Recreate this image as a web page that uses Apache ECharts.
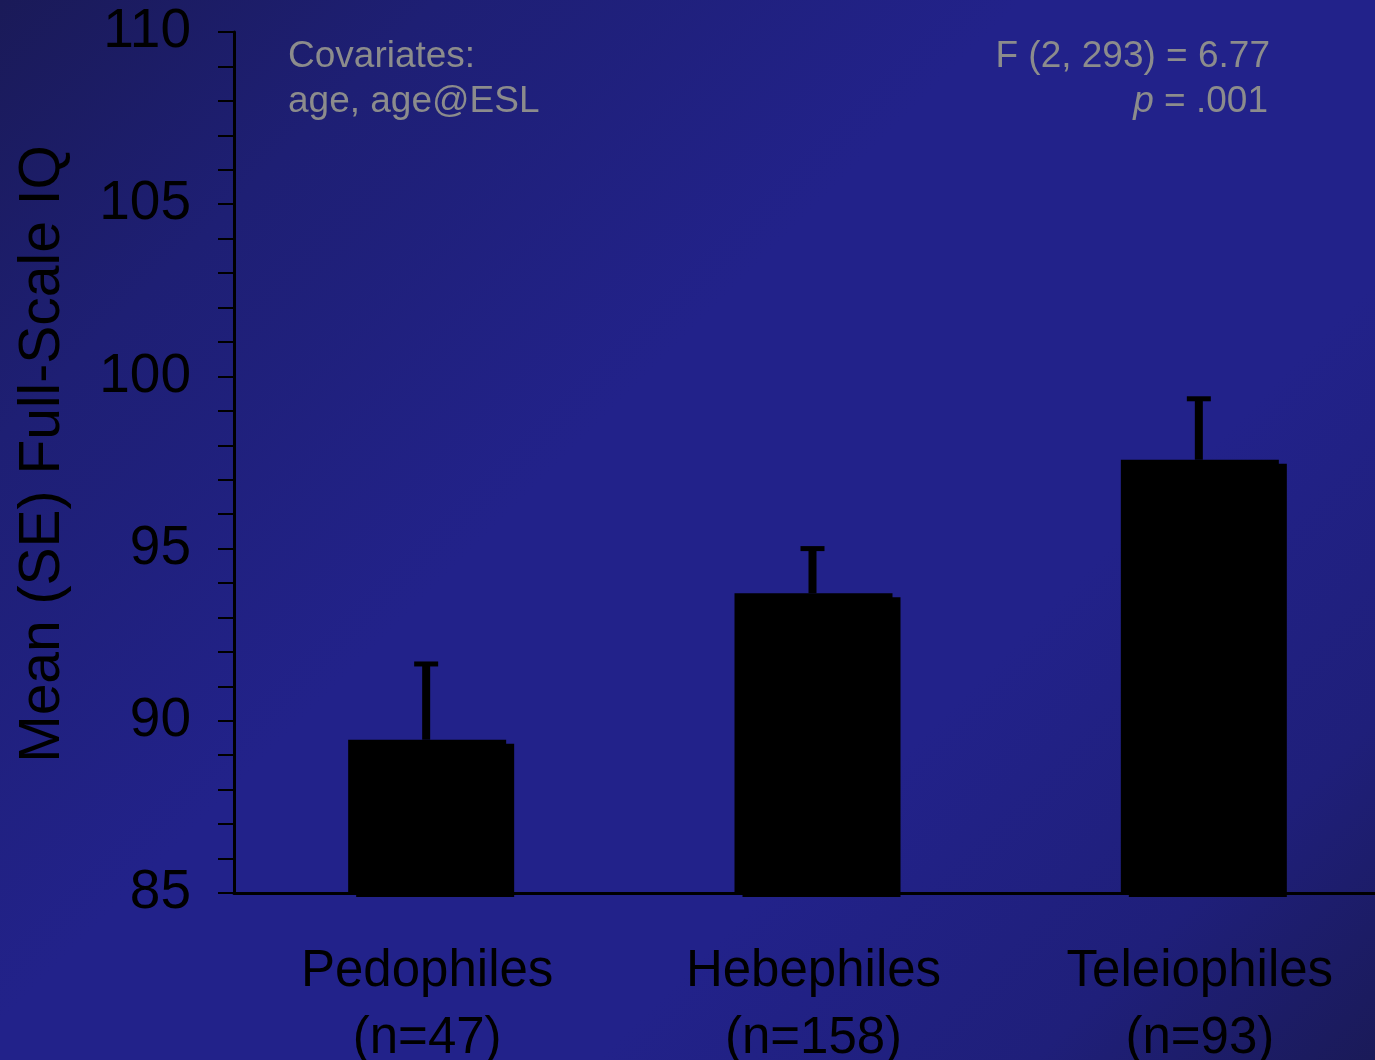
<!DOCTYPE html>
<html>
<head>
<meta charset="utf-8">
<script src="https://cdn.jsdelivr.net/npm/echarts@6/dist/echarts.min.js"></script>
<style>
  html, body { margin: 0; padding: 0; }
  body { width: 1375px; height: 1060px; overflow: hidden;
    background: linear-gradient(135deg, #1a1a58 0%, #1e1f74 18%, #22228a 42%, #22228a 68%, #1f1f7a 86%, #1a1a58 100%); }
  #chart { width: 1375px; height: 1060px; }
</style>
</head>
<body>
<div id="chart"></div>
<script>
// Group labels (two lines: name and sample size)
const groups = ['Pedophiles\n(n=47)', 'Hebephiles\n(n=158)', 'Teleiophiles\n(n=93)'];
// Adjusted mean full-scale IQ per group
const meanIQ = [89.45, 93.7, 97.58];
// Upper end of the SE bar (mean + SE)
const upperIQ = [91.65, 95.0, 99.35];
// Y axis range and labelled step
const yMin = 85, yMax = 110, yStep = 5;

const FONT = '"Liberation Sans", Arial, sans-serif';
const NOTE = '#8c8c8c';

const chart = echarts.init(document.getElementById('chart'), null, { renderer: 'canvas' });

chart.setOption({
  backgroundColor: 'transparent',
  animation: false,
  grid: { left: 234, right: -18, top: 32, bottom: 167, containLabel: false, outerBoundsMode: 'none' },
  xAxis: {
    type: 'category',
    data: groups,
    axisLine: { show: true, lineStyle: { color: '#000', width: 3 } },
    axisTick: { show: false },
    axisLabel: {
      color: '#000', fontFamily: FONT, fontSize: 51, lineHeight: 67,
      margin: 45, interval: 0
    },
    splitLine: { show: false }
  },
  yAxis: {
    type: 'value',
    min: yMin, max: yMax, interval: yStep,
    axisLine: { show: true, lineStyle: { color: '#000', width: 3 } },
    axisTick: { show: true, inside: false, length: 16, lineStyle: { color: '#000', width: 2 } },
    minorTick: { show: true, splitNumber: 5, length: 16, lineStyle: { color: '#000', width: 2 } },
    axisLabel: { color: '#000', fontFamily: FONT, fontSize: 55, margin: 43 },
    splitLine: { show: false }
  },
  series: [
    {
      type: 'bar',
      data: meanIQ,
      barWidth: 158,
      itemStyle: {
        color: '#000',
        shadowColor: '#000',
        shadowBlur: 0,
        shadowOffsetX: 8,
        shadowOffsetY: 4
      },
      z: 2
    },
    {
      // SE whiskers drawn upward from each bar top
      type: 'custom',
      z: 3,
      data: groups.map((g, i) => [i, meanIQ[i], upperIQ[i]]),
      renderItem: function (params, api) {
        const base = api.coord([api.value(0), api.value(1)]);
        const top = api.coord([api.value(0), api.value(2)]);
        const x = base[0] - 1;
        return {
          type: 'group',
          children: [
            { type: 'line', shape: { x1: x, y1: base[1], x2: x, y2: top[1] },
              style: { stroke: '#000', lineWidth: 8 } },
            { type: 'line', shape: { x1: x - 12, y1: top[1], x2: x + 12, y2: top[1] },
              style: { stroke: '#000', lineWidth: 5 } }
          ]
        };
      }
    }
  ],
  graphic: [
    {
      // y axis title
      type: 'text', x: 43, y: 454, rotation: Math.PI / 2,
      style: {
        text: 'Mean (SE) Full-Scale IQ',
        fill: '#000', font: '57px ' + FONT, align: 'center', verticalAlign: 'middle'
      }
    },
    {
      type: 'text', left: 288, top: 34,
      style: {
        text: 'Covariates:\nage, age@ESL',
        fill: NOTE, font: '37px ' + FONT, lineHeight: 45
      }
    },
    {
      type: 'text', right: 105, top: 34,
      style: { text: 'F (2, 293) = 6.77', fill: NOTE, font: '37px ' + FONT, lineHeight: 45 }
    },
    {
      type: 'text', right: 107, top: 79,
      style: {
        text: '{it|p} = .001',
        fill: NOTE, font: '37px ' + FONT, lineHeight: 45,
        rich: { it: { fontStyle: 'italic', fontFamily: FONT, fontSize: 37, fill: NOTE, lineHeight: 45 } }
      }
    }
  ]
});
</script>
</body>
</html>
